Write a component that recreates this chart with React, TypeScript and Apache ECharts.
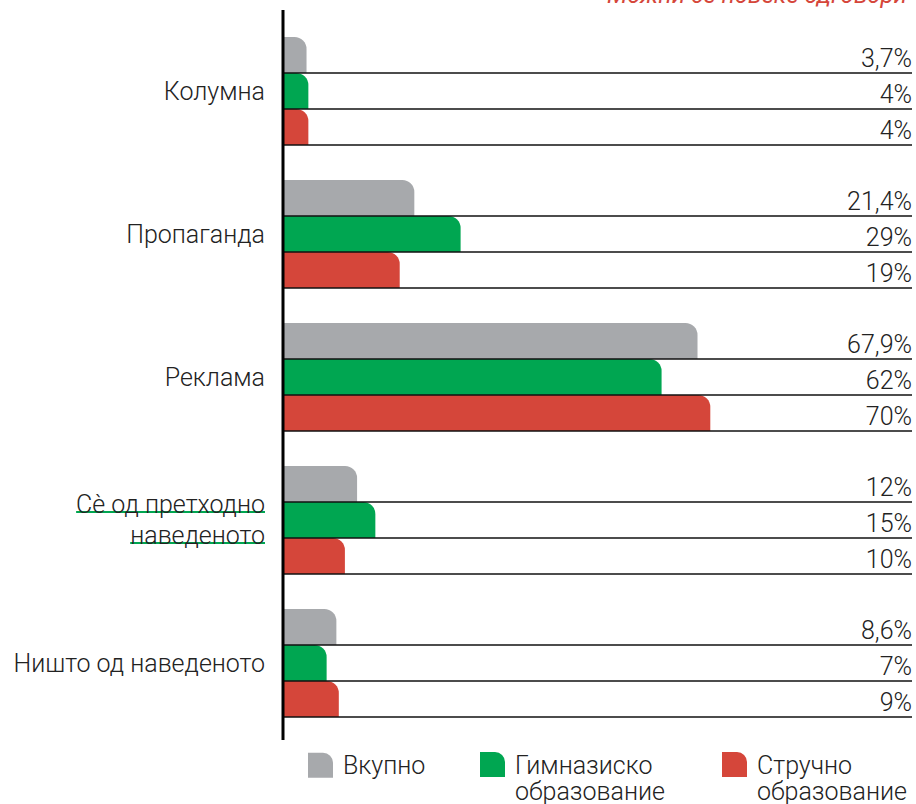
import React, { useEffect, useRef } from "react";
import * as echarts from "echarts";

const categories = ["Колумна", "Пропаганда", "Реклама", "Сè од претходно\nнаведеното", "Ништо од наведеното"];
const seriesNames = ["Вкупно", "Гимназиско\nобразование", "Стручно\nобразование"];
const vkupno = [3.7, 21.4, 67.9, 12, 8.6];
const gimnazisko = [4, 29, 62, 15, 7];
const strucno = [4, 19, 70, 10, 9];
const colors = ["#a7a9ac", "#00a651", "#d5463a"];
const titleText = "Можни се повеќе одговори";

const CAT_GAP = 0.245;
const FONT = "Roboto, 'Noto Sans', sans-serif";
const ICON1 = "path://M0,0 H15 A10,10 0 0 1 25,10 V25 H0 Z";
const ICON2 = "path://M0,0 H15 A10,10 0 0 1 25,10 V25 H0 Z M0,52.95 L0.02,53 L0,53 Z";

function textWidth(t: string, font: string) {
  const c = document.createElement("canvas").getContext("2d");
  if (!c) return t.length * 12;
  c.font = font;
  return c.measureText(t).width;
}

export default function App() {
  const ref = useRef<HTMLDivElement>(null);
  useEffect(() => {
    if (!ref.current) return;
    const chart = echarts.init(ref.current, null, { renderer: "svg" });
    const all = [vkupno, gimnazisko, strucno];
    const lineData: number[][] = [];
    all.forEach((arr, s) => arr.forEach((v, c) => lineData.push([v, c, s])));
    const fmt = (v: number) => String(v).replace(".", ",") + "%";

    const labelFont = "300 25px Roboto";
    const [u1, u2] = categories[3].split("\n");
    const w1 = textWidth(u1, labelFont);
    const w2 = textWidth(u2, labelFont);
    const labelRight = 265;

    const legendPos = [308, 480, 722];
    const option: any = {
      animation: false,
      title: {
        text: titleText,
        right: 4,
        top: -22,
        textStyle: { color: "#d5463a", fontStyle: "italic", fontWeight: 400, fontSize: 24, fontFamily: FONT },
      },
      grid: { left: 284, top: 19.5, width: 609, height: 715 },
      xAxis: { type: "value", min: 0, max: 100, show: false },
      yAxis: {
        type: "category",
        data: categories.map((c) =>
          c.includes("\n") ? { value: c, textStyle: { padding: [0, 0, 18, 0] } } : c
        ),
        inverse: true,
        axisLine: { show: false },
        axisTick: { show: false },
        axisLabel: { margin: 284 - labelRight, fontSize: 25, lineHeight: 31, color: "#222", fontFamily: FONT, fontWeight: 300 },
      },
      legend: seriesNames.map((n, i) => ({
        left: legendPos[i],
        top: 752,
        padding: 0,
        itemWidth: 25,
        itemHeight: i === 0 ? 25 : 53,
        itemGap: 10,
        icon: i === 0 ? ICON1 : ICON2,
        selectedMode: false,
        textStyle: { fontSize: 25, lineHeight: 26.5, color: "#222", fontFamily: FONT, fontWeight: 300, padding: [0, 0, 0, 5] },
        data: [n],
      })),
      graphic: [
        { type: "line", shape: { x1: 283, y1: 10, x2: 283, y2: 740 }, style: { stroke: "#000", lineWidth: 3 }, z: 10 },
        { type: "line", shape: { x1: labelRight - w1, y1: 512, x2: labelRight, y2: 512 }, style: { stroke: "#00a651", lineWidth: 2 } },
        { type: "line", shape: { x1: labelRight - w2, y1: 543, x2: labelRight, y2: 543 }, style: { stroke: "#00a651", lineWidth: 2 } },
      ],
      series: [
        ...all.map((arr, i) => ({
          type: "bar",
          name: seriesNames[i],
          data: arr,
          barGap: "0%",
          barCategoryGap: (CAT_GAP * 100).toFixed(1) + "%",
          itemStyle: { color: colors[i], borderRadius: [0, 12, 0, 0] },
        })),
        {
          type: "custom",
          data: lineData,
          encode: { x: 0, y: 1 },
          z: 5,
          silent: true,
          renderItem: (params: any, api: any) => {
            const v = api.value(0);
            const c = api.value(1);
            const s = api.value(2);
            const center = api.coord([0, c]);
            const band = api.size([0, 1])[1];
            const group = band * (1 - CAT_GAP);
            const bw = group / 3;
            const yb = center[1] - group / 2 + (s + 1) * bw;
            const x0 = center[0] - 1;
            const x1 = api.getWidth() - 4;
            return {
              type: "group",
              children: [
                {
                  type: "line",
                  shape: { x1: x0, y1: yb, x2: x1, y2: yb },
                  style: { stroke: "#111", lineWidth: 1.5 },
                },
                {
                  type: "text",
                  style: {
                    text: fmt(v),
                    x: x1,
                    y: yb - 2,
                    align: "right",
                    verticalAlign: "bottom",
                    fontSize: 25,
                    fontFamily: FONT,
                    fontWeight: 300,
                    fill: "#222",
                  },
                },
              ],
            };
          },
        },
      ],
    };
    chart.setOption(option);
    return () => chart.dispose();
  }, []);
  return <div ref={ref} style={{ position: "absolute", left: 0, top: 0, width: 916, height: 804 }} />;
}
